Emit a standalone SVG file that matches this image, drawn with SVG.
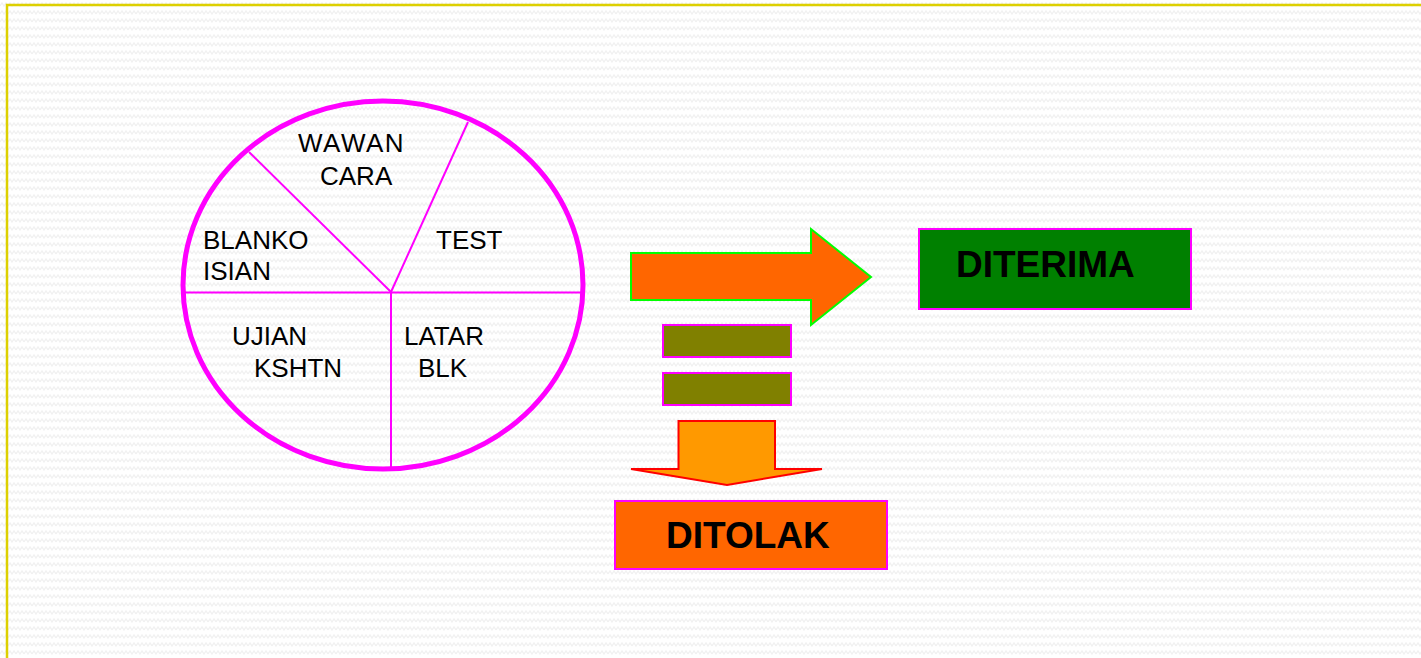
<svg xmlns="http://www.w3.org/2000/svg" width="1421" height="658" viewBox="0 0 1421 658">
<defs>
<pattern id="bg" width="8" height="8" patternUnits="userSpaceOnUse">
<polyline points="0,6 2,3 4,6 6,3 8,6" fill="none" stroke="#f1f1f1" stroke-width="1.3"/>
</pattern>
</defs>
<style>
.lbl{font-family:"Liberation Sans",Arial,sans-serif;font-size:26px;fill:#000}
.big{font-family:"Liberation Sans",Arial,sans-serif;font-size:37px;font-weight:bold;fill:#000}
.seg{stroke:#ff00ff;stroke-width:2;fill:none}
.box{stroke:#ff00ff;stroke-width:2}
</style>
<rect x="0" y="0" width="1421" height="658" fill="#ffffff"/>
<rect x="0" y="0" width="1421" height="658" fill="url(#bg)"/>
<path d="M7,658 V5 H1421" fill="none" stroke="#ddd000" stroke-width="2.5"/>

<g id="pie">
<ellipse cx="383" cy="285" rx="200" ry="184" fill="none" stroke="#ff00ff" stroke-width="5"/>
<line class="seg" x1="183" y1="292.5" x2="582" y2="292.5"/>
<line class="seg" x1="391" y1="292" x2="391" y2="467"/>
<line class="seg" x1="391" y1="292" x2="249" y2="152"/>
<line class="seg" x1="391" y1="292" x2="468" y2="122"/>
<text class="lbl" x="298" y="152" letter-spacing="1.5">WAWAN</text>
<text class="lbl" x="320" y="185">CARA</text>
<text class="lbl" x="436" y="249">TEST</text>
<text class="lbl" x="203" y="249">BLANKO</text>
<text class="lbl" x="203" y="280">ISIAN</text>
<text class="lbl" x="232" y="345">UJIAN</text>
<text class="lbl" x="254" y="377">KSHTN</text>
<text class="lbl" x="404" y="345">LATAR</text>
<text class="lbl" x="418" y="377">BLK</text>
</g>

<g id="connectors">
<polygon points="631,253 811,253 811,229 871,277 811,325 811,300 631,300" fill="#ff6600" stroke="#00ff00" stroke-width="2"/>
<polygon points="678.5,421 775,421 775,469 822,469 727,485 631,469 678.5,469" fill="#ff9900" stroke="#ff0000" stroke-width="2"/>
</g>

<g id="bars">
<rect class="box" x="663" y="325" width="128" height="32" fill="#808000"/>
<rect class="box" x="663" y="373" width="128" height="32" fill="#808000"/>
</g>

<g id="diterima">
<rect class="box" x="919" y="229" width="272" height="80" fill="#008000"/>
<text class="big" x="956" y="277">DITERIMA</text>
</g>

<g id="ditolak">
<rect class="box" x="615" y="501" width="272" height="68" fill="#ff6600"/>
<text class="big" x="666" y="548">DITOLAK</text>
</g>
</svg>
